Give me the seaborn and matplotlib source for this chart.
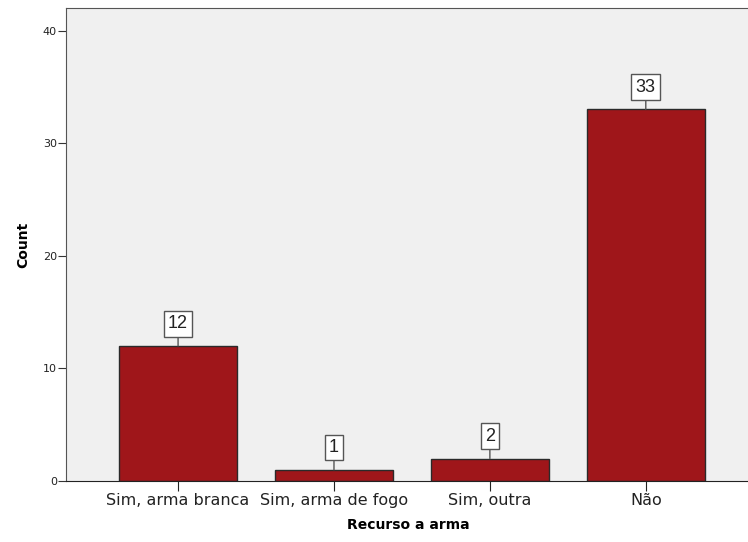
import seaborn as sns
import matplotlib.pyplot as plt
import pandas as pd

# Dados do gráfico
categorias = ['Sim, arma branca', 'Sim, arma de fogo', 'Sim, outra', 'Não']
contagens = [12, 1, 2, 33]
yticks = [0, 10, 20, 30, 40]

df = pd.DataFrame({'Recurso a arma': categorias, 'Count': contagens})

plt.rcParams['font.family'] = ['DejaVu Sans']

fig = plt.figure(figsize=(7.48, 5.42), dpi=100)
ax = fig.add_axes([0.088, 0.1125, 0.915, 0.8725])
ax.set_facecolor('#F0F0F0')

sns.barplot(data=df, x='Recurso a arma', y='Count', color='#9F161A',
            saturation=1, width=0.755, edgecolor='#2a2a2a', linewidth=1, ax=ax)

# Rótulos com caixa e linha de ligação vertical
for i, v in enumerate(contagens):
    ax.annotate(str(v), xy=(i, v), xytext=(0, 16), textcoords='offset points',
                ha='center', va='center', fontsize=13, color='#222222',
                family=['Liberation Sans', 'DejaVu Sans'],
                bbox=dict(boxstyle='square,pad=0.24', fc='white', ec='#555555', lw=1),
                arrowprops=dict(arrowstyle='-', color='#555555', lw=1,
                                shrinkA=0, shrinkB=0))

ax.set_xlim(-0.72, 3.67)
ax.set_ylim(0, 42)
ax.set_yticks(yticks)
ax.tick_params(axis='y', labelsize=8, length=5.5, pad=1, color='#333333', labelcolor='#222222')
ax.tick_params(axis='x', labelsize=11.5, length=7, pad=1.5, color='#222222', labelcolor='#222222')
for s in ax.spines.values():
    s.set_color('#555555')
ax.spines['bottom'].set_color('#222222')
ax.set_xlabel('Recurso a arma', fontsize=10, fontweight='bold', labelpad=7)
ax.set_ylabel('Count', fontsize=10, fontweight='bold', labelpad=9)

fig.savefig('out.png', dpi=100)
